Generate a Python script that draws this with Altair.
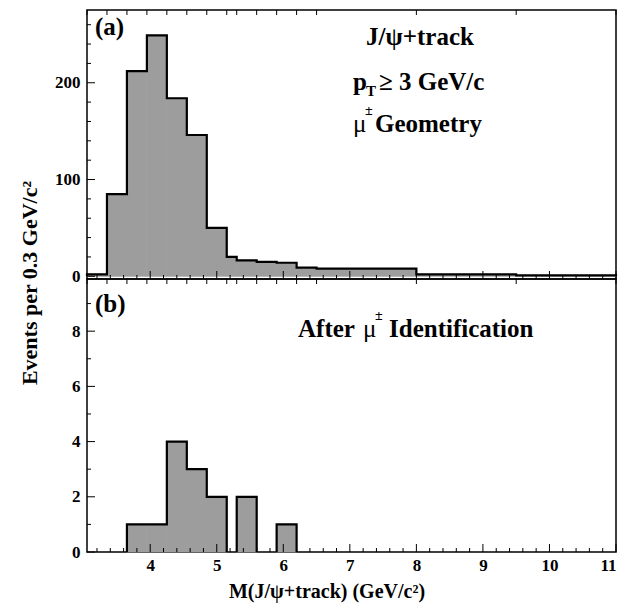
import altair as alt
import numpy as np
import pandas as pd

# ---------------- data ----------------
# bin edges in GeV/c^2, shared by both panels
edges = [3.05, 3.35, 3.65, 3.95, 4.25, 4.55, 4.85, 5.15, 5.30, 5.60, 5.90, 6.20, 6.50, 8.00, 9.50, 11.00]
# (a) J/psi + track, pT >= 3 GeV/c, mu geometry
counts_a = [2, 85, 212, 249, 184, 146, 50, 20, 16.5, 15, 14, 9, 8, 2, 1]
# (b) after mu identification
counts_b = [0, 0, 1, 1, 4, 3, 2, 0, 2, 0, 1, 0, 0, 0, 0]

x_labels = [4, 5, 6, 7, 8, 9, 10, 11]
ya_labels = [0, 100, 200]
yb_labels = [0, 2, 4, 6, 8]

# ---------------- style ----------------
FONT = "Liberation Serif"
FILL = "#9d9d9d"
LBL = 17
ANN = 25
W = 529
HA = 269
HB = 273
XDOM = [3.05, 11.0]
YA_DOM = [-2.8, 275.2]
YB_DOM = [0.0, 9.89]

x_minor = [v for v in np.round(np.arange(3.2, 11.0, 0.2), 1) if abs(v - round(v)) > 1e-6]
ya_minor = [v for v in range(20, 275, 20) if v % 100 != 0]
yb_minor = [1, 3, 5, 7, 9]


def bars_df(counts):
    rows = []
    for i, c in enumerate(counts):
        if c > 0:
            rows.append({"x0": edges[i], "x1": edges[i + 1], "n": c})
    return pd.DataFrame(rows)


def outline_df(counts):
    rows = []
    g = 0
    order = 0
    i = 0
    n = len(counts)
    while i < n:
        if counts[i] > 0:
            j = i
            while j + 1 < n and counts[j + 1] > 0:
                j += 1
            pts = [(edges[i], 0)] + [(edges[k], counts[k]) for k in range(i, j + 1)] + [(edges[j + 1], 0)]
            for (x, y) in pts:
                rows.append({"x": x, "y": y, "g": g, "o": order})
                order += 1
            g += 1
            i = j + 1
        else:
            i += 1
    return pd.DataFrame(rows)


def txt(text, x, y, size, align="left", baseline="alphabetic", angle=None, weight="bold"):
    kw = dict(text=text, font=FONT, fontSize=size, fontWeight=weight, color="black",
              align=align, baseline=baseline)
    if angle is not None:
        kw["angle"] = angle
    return alt.Chart(pd.DataFrame({"k": [0]})).mark_text(**kw).encode(
        x=alt.value(x), y=alt.value(y))


def panel(counts, ydom, h, ymajor, yminor, show_x, texts):
    xs = alt.Scale(domain=XDOM, nice=False, zero=False)
    ys = alt.Scale(domain=ydom, nice=False, zero=False)
    if show_x:
        xax = alt.Axis(values=x_labels, ticks=False, domain=False, grid=False,
                       labelFont=FONT, labelFontSize=LBL, labelFontWeight="bold",
                       labelColor="black", labelPadding=5, title=None)
    else:
        xax = None
    yax = alt.Axis(values=ymajor, ticks=False, domain=False, grid=False,
                   labelFont=FONT, labelFontSize=LBL, labelFontWeight="bold",
                   labelColor="black", labelPadding=7, title=None)

    fill = alt.Chart(bars_df(counts)).mark_rect(color=FILL, stroke=FILL, strokeWidth=0.8).encode(
        x=alt.X("x0:Q", scale=xs, axis=xax), x2="x1:Q",
        y=alt.Y("n:Q", scale=ys, axis=yax), y2=alt.datum(0))

    line = alt.Chart(outline_df(counts)).mark_line(
        color="black", strokeWidth=2.2, interpolate="step-after").encode(
        x=alt.X("x:Q", scale=xs, axis=xax),
        y=alt.Y("y:Q", scale=ys, axis=yax),
        detail="g:N", order="o:Q")

    def yt(vals, length):
        return alt.Chart(pd.DataFrame({"v": vals})).mark_rule(color="black", strokeWidth=1).encode(
            y=alt.Y("v:Q", scale=ys, axis=yax), x=alt.value(0), x2=alt.value(length))

    def xt_bottom(vals, length):
        return alt.Chart(pd.DataFrame({"v": vals})).mark_rule(color="black", strokeWidth=1).encode(
            x=alt.X("v:Q", scale=xs, axis=xax), y=alt.value(h), y2=alt.value(h - length))

    def xt_top(vals, length):
        return alt.Chart(pd.DataFrame({"v": vals})).mark_rule(color="black", strokeWidth=1).encode(
            x=alt.X("v:Q", scale=xs, axis=xax), y=alt.value(0), y2=alt.value(length))

    layers = [fill, line,
              yt(ymajor, 8), yt(yminor, 4),
              xt_bottom(x_labels, 8), xt_bottom(x_minor, 4),
              xt_top(edges, 5)] + texts
    return alt.layer(*layers).properties(width=W, height=h)


texts_a = [
    txt("(a)", 8, 25, ANN),
    txt("J/\u03c8+track", 333, 35, ANN, align="center"),
    txt("p", 266, 80, ANN),
    txt("T", 279, 86, 15),
    txt("\u2265 3 GeV/c", 292, 80, ANN),
    txt("\u03bc", 266, 122, ANN, weight="normal"),
    txt("\u00b1", 278, 105, 14),
    txt("Geometry", 288, 122, ANN),
    txt("Events per 0.3 GeV/c\u00b2", -57, 273, 22, align="center", baseline="middle", angle=270),
]

texts_b = [
    txt("(b)", 8, 33, ANN),
    txt("After", 211, 58, ANN),
    txt("\u03bc", 276, 58, ANN, weight="normal"),
    txt("\u00b1", 288, 41, 14),
    txt("Identification", 302, 58, ANN),
    txt("M(J/\u03c8+track) (GeV/c\u00b2)", 240, 319, 20, align="center"),
]

top = panel(counts_a, YA_DOM, HA, ya_labels, ya_minor, False, texts_a)
bottom = panel(counts_b, YB_DOM, HB, yb_labels, yb_minor, True, texts_b)

chart = alt.vconcat(top, bottom, spacing=0, bounds="flush").properties(
    padding={"left": 10, "top": 0, "right": 0, "bottom": 0},
    background="white",
).configure_view(stroke="black", strokeWidth=1.5)

chart.save("out.html", embed_options={"renderer": "svg", "actions": False})
